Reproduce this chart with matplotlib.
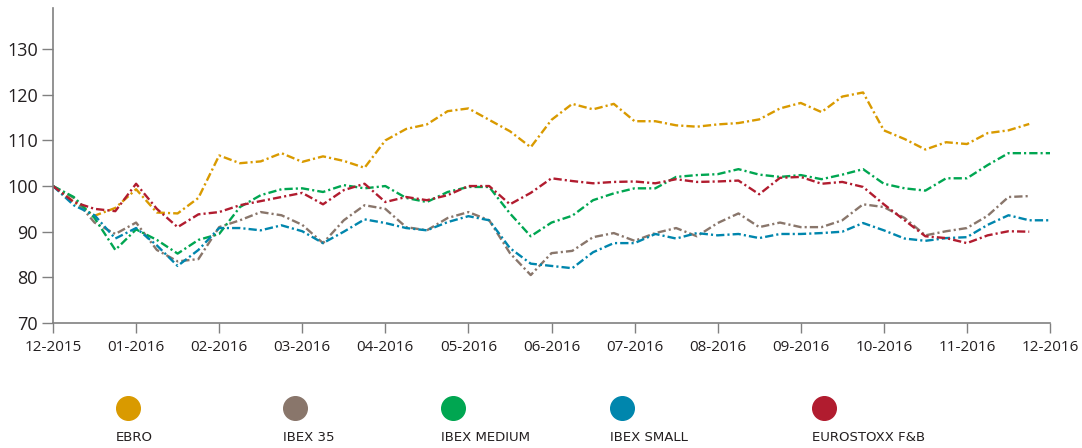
import numpy as np
import matplotlib.pyplot as plt
from matplotlib.lines import Line2D

# Datos (base 100, semanal de 12-2015 a 12-2016)
meses = ['12-2015', '01-2016', '02-2016', '03-2016', '04-2016', '05-2016', '06-2016',
         '07-2016', '08-2016', '09-2016', '10-2016', '11-2016', '12-2016']

series = ['EBRO', 'IBEX 35', 'IBEX MEDIUM', 'IBEX SMALL', 'EUROSTOXX F&B']

ebro = [100, 96.5, 93.5, 95.2, 99.3, 94.2, 94, 97.4, 106.7, 105, 105.4, 107.2, 105.3,
        106.5, 105.5, 104, 110, 112.5, 113.5, 116.4, 117, 114.5, 112, 108.5, 114.5,
        118, 116.8, 118, 114.2, 114.2, 113.3, 113, 113.5, 113.8, 114.6, 117, 118.2,
        116.2, 119.6, 120.5, 112.2, 110.3, 108, 109.6, 109.2, 111.6, 112.2, 113.6, np.nan]

ibex35 = [100, 97.4, 92, 89.5, 92, 86, 83.5, 84, 91, 92.5, 94.3, 93.6, 91.5,
          87.5, 92.5, 95.8, 95, 91, 90.3, 93, 94.3, 92.5, 85.3, 80.5, 85.3,
          85.8, 88.8, 89.7, 88, 89.7, 90.8, 89, 91.9, 94, 91, 92, 91,
          91, 92.5, 96, 95.4, 93, 89.2, 90.1, 90.8, 93.5, 97.6, 97.8, np.nan]

ibex_medium = [100, 97.6, 93, 86, 90.5, 88.2, 85.2, 88.2, 89.5, 95.4, 98, 99.3, 99.5,
               98.7, 100.2, 99.5, 100, 97.4, 96.5, 98.7, 99.8, 99.8, 94, 89, 92,
               93.5, 96.9, 98.4, 99.5, 99.5, 102, 102.4, 102.6, 103.7, 102.5, 102, 102.4,
               101.5, 102.5, 103.7, 100.5, 99.5, 99, 101.7, 101.7, 104.6, 107.2, 107.2, 107.2]

ibex_small = [100, 95.8, 93.6, 88.5, 90.8, 87, 82.5, 86, 90.8, 90.8, 90.3, 91.4, 90.1,
              87.5, 90, 92.7, 91.9, 90.8, 90.3, 92.1, 93.4, 92.5, 86.4, 83, 82.5,
              82, 85.5, 87.5, 87.5, 89.5, 88.5, 89.7, 89.2, 89.5, 88.6, 89.5, 89.5,
              89.7, 90, 91.9, 90.3, 88.5, 88, 88.6, 88.8, 91.5, 93.6, 92.5, 92.5]

eurostoxx = [100, 96.5, 95, 94.5, 100.5, 95, 91, 93.8, 94.3, 95.8, 96.7, 97.6, 98.5,
             96, 99.1, 100.5, 96.5, 97.6, 96.9, 98, 100, 100, 96, 98.5, 101.7,
             101.1, 100.6, 100.9, 101, 100.6, 101.5, 100.9, 101, 101.2, 98.2, 101.8, 102,
             100.5, 100.9, 99.8, 96, 92.5, 89, 88.6, 87.5, 89.2, 90.1, 90, np.nan]

colores = ['#D99A00', '#89766B', '#00A651', '#0086AD', '#B11C2F']

datos = [ebro, ibex35, ibex_medium, ibex_small, eurostoxx]
semanas = np.arange(len(ebro)) / 4.0

fig = plt.figure(figsize=(10.82, 4.48), dpi=100)
ax = fig.add_axes([53 / 1082, 1 - 323 / 448, 997 / 1082, 315 / 448])

for vals, c in zip(datos, colores):
    ax.plot(semanas, vals, color=c, lw=1.7, linestyle=(0, (3.5, 1.3, 0.9, 1.3)))

ax.set_xlim(0, 12)
ax.set_ylim(70, 139)
ax.set_xticks(range(13))
ax.set_xticklabels(meses)
ax.set_yticks(range(70, 131, 10))

for s in ['top', 'right']:
    ax.spines[s].set_visible(False)
for s in ['left', 'bottom']:
    ax.spines[s].set_color('#808080')
    ax.spines[s].set_linewidth(1.2)

ax.tick_params(axis='y', length=8, width=1, color='#808080', pad=3,
               labelsize=13, labelcolor='#231F20')
ax.tick_params(axis='x', length=7.5, width=1, color='#808080', pad=5,
               labelsize=11, labelcolor='#231F20')
for lab in ax.get_xticklabels() + ax.get_yticklabels():
    lab.set_family(['Open Sans', 'DejaVu Sans'])

# Leyenda
ley_x = [128, 295, 453, 622, 824]
for x, c, nombre in zip(ley_x, colores, series):
    fig.add_artist(Line2D([x / 1082], [1 - 408 / 448], marker='o', markersize=17,
                          color=c, transform=fig.transFigure))
    fig.text((x - 12) / 1082, 1 - 437 / 448, nombre, fontsize=9.5, color='#231F20',
             va='center', ha='left', family=['Liberation Sans Narrow', 'DejaVu Sans'])

fig.savefig('out.png', dpi=100)
